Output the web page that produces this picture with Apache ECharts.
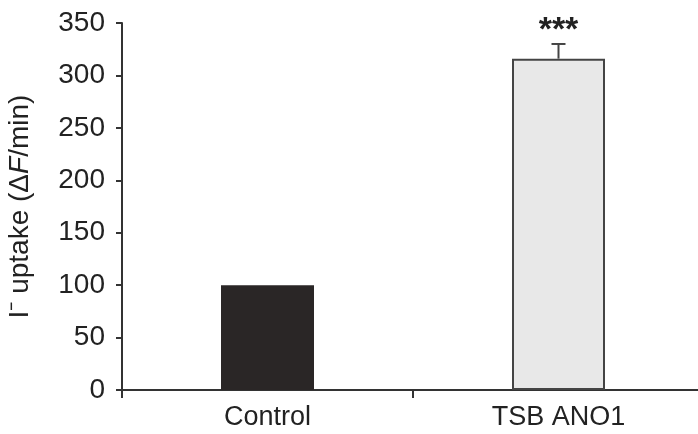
<!DOCTYPE html>
<html>
<head>
<meta charset="utf-8">
<script src="https://cdn.jsdelivr.net/npm/echarts@6/dist/echarts.min.js"></script>
<style>
html,body{margin:0;padding:0;background:#fff;}
#chart{width:698px;height:434px;}
</style>
</head>
<body>
<div id="chart"></div>
<script>
var categories = ['Control', 'TSB ANO1'];
var meanValues = [100, 316];
var errorValues = [0, 14];
var significance = ['', '***'];
var yTicks = [0, 50, 100, 150, 200, 250, 300, 350];

var chart = echarts.init(document.getElementById('chart'));
var FONT = '"Liberation Sans", Arial, sans-serif';
var TXT = '#222';

var errData = categories.map(function (c, i) {
  return [i, meanValues[i], meanValues[i] + errorValues[i], significance[i]];
});

chart.setOption({
  animation: false,
  backgroundColor: '#fff',
  grid: { left: 122, right: -6, top: 23, bottom: 44, containLabel: false, outerBoundsMode: 'none' },
  xAxis: {
    type: 'category',
    data: categories,
    boundaryGap: true,
    axisLine: { lineStyle: { color: '#333', width: 2 } },
    axisTick: { show: true, length: 8, inside: false, alignWithLabel: false, lineStyle: { color: '#333', width: 2 } },
    axisLabel: { color: TXT, fontSize: 27, fontFamily: FONT, margin: 14 },
    splitLine: { show: false }
  },
  yAxis: {
    type: 'value',
    min: yTicks[0],
    max: yTicks[yTicks.length - 1],
    interval: 50,
    name: 'I\u207B uptake (\u0394{i|F}/min)',
    nameLocation: 'middle',
    nameGap: 88,
    nameRotate: 90,
    nameTextStyle: {
      color: TXT, fontSize: 28, fontFamily: FONT,
      rich: { i: { fontStyle: 'italic', fontSize: 28, fontFamily: FONT, color: TXT } }
    },
    axisLine: { show: true, lineStyle: { color: '#333', width: 2 } },
    axisTick: { show: true, length: 6, lineStyle: { color: '#333', width: 2 } },
    axisLabel: { color: TXT, fontSize: 28, fontFamily: FONT, margin: 17 },
    splitLine: { show: false }
  },
  series: [
    {
      type: 'bar',
      data: [
        { value: meanValues[0], itemStyle: { color: '#2a2626', borderWidth: 0 } },
        { value: meanValues[1], itemStyle: { color: '#e8e8e8', borderColor: '#444', borderWidth: 2 } }
      ],
      barWidth: 93,
      z: 2
    },
    {
      type: 'custom',
      z: 3,
      data: errData,
      renderItem: function (params, api) {
        var x = api.value(0);
        var lo = api.coord([x, api.value(1)]);
        var hi = api.coord([x, api.value(2)]);
        var children = [];
        if (api.value(2) > api.value(1)) {
          children.push({ type: 'line', shape: { x1: lo[0], y1: lo[1], x2: hi[0], y2: hi[1] }, style: { stroke: '#444', lineWidth: 2 } });
          children.push({ type: 'line', shape: { x1: hi[0] - 7, y1: hi[1], x2: hi[0] + 7, y2: hi[1] }, style: { stroke: '#444', lineWidth: 2 } });
        }
        var lbl = significance[params.dataIndex];
        if (lbl) {
          children.push({ type: 'text', style: { text: lbl, x: hi[0], y: hi[1] + 4, align: 'center', verticalAlign: 'bottom', fontSize: 34, fontWeight: 'bold', fontFamily: FONT, fill: '#222' } });
        }
        return { type: 'group', children: children };
      }
    }
  ]
});
</script>
</body>
</html>
